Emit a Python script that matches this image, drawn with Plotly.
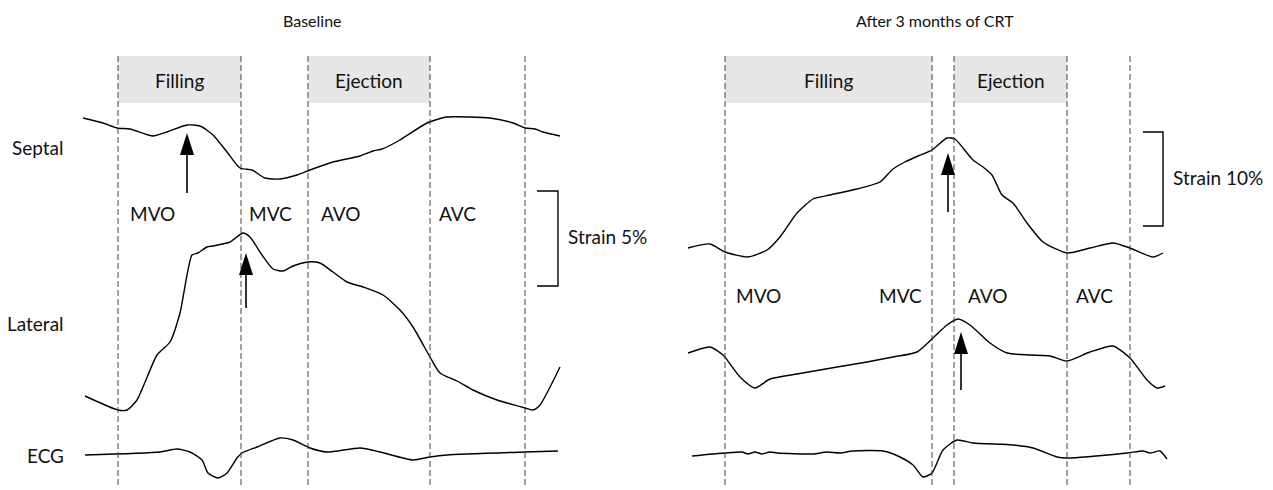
import plotly.graph_objects as go

# ---------------- data (time axis in px-like units, strain axis downward) ----------------
panel_titles = ["Baseline", "After 3 months of CRT"]
title_x = [312, 935]

row_labels = ["Septal", "Lateral", "ECG"]
row_label_y = [147, 323, 455]

# event lines (MVO, MVC, AVO, AVC, next MVO)
events_left = [118, 241, 308, 430, 525]
events_right = [725, 932, 954, 1067, 1130]
event_names = ["MVO", "MVC", "AVO", "AVC"]
event_label_x_left = [129, 248, 320, 438]
event_label_x_right = [735, 878, 967, 1075]
event_label_y = [213, 295]

phase_names = ["Filling", "Ejection"]

# Baseline septal
bs_x = [83, 103, 117, 130, 153, 167, 187, 200, 213, 227, 240, 252, 265, 280, 297, 310, 333, 360, 373, 382, 400, 427, 447, 470, 490, 513, 525, 535, 543, 560]
bs_y = [118, 123, 128, 129, 136, 132, 125, 126, 135, 152, 168, 170, 178, 179, 175, 170, 162, 156, 151, 149, 140, 123, 117, 117, 118, 123, 128, 129, 132, 136]
# Baseline lateral
bl_x = [85, 118, 127, 137, 157, 170, 180, 192, 198, 207, 213, 230, 243, 250, 262, 273, 283, 293, 308, 320, 333, 347, 363, 383, 400, 413, 430, 440, 457, 473, 497, 525, 533, 540, 560]
bl_y = [396, 410, 410, 400, 355, 342, 313, 255, 253, 247, 246, 242, 233, 237, 255, 269, 271, 266, 262, 263, 272, 282, 287, 295, 310, 327, 357, 373, 381, 390, 400, 408, 410, 405, 367]
# Baseline ECG
be_x = [85, 160, 177, 190, 202, 208, 218, 227, 237, 242, 257, 280, 293, 310, 327, 360, 380, 413, 430, 447, 525, 558]
be_y = [455, 452, 449, 452, 460, 473, 478, 473, 458, 453, 447, 438, 440, 448, 452, 448, 452, 460, 457, 455, 452, 451]

# CRT septal
cs_x = [688, 710, 725, 748, 767, 780, 797, 813, 830, 857, 880, 893, 905, 918, 932, 947, 955, 963, 973, 983, 992, 1002, 1013, 1027, 1043, 1067, 1090, 1113, 1130, 1153, 1163]
cs_y = [248, 244, 252, 257, 250, 237, 213, 199, 195, 189, 182, 169, 162, 156, 150, 138, 139, 148, 160, 167, 175, 195, 203, 223, 242, 253, 248, 243, 248, 257, 253]
# CRT lateral
cl_x = [688, 710, 723, 740, 755, 770, 797, 820, 837, 867, 893, 917, 933, 947, 958, 970, 990, 1007, 1030, 1050, 1067, 1090, 1113, 1130, 1147, 1157, 1165]
cl_y = [353, 347, 355, 377, 388, 379, 374, 370, 367, 362, 357, 352, 338, 325, 319, 325, 343, 353, 355, 356, 361, 352, 346, 358, 380, 388, 386]
# CRT ECG
ce_x = [692, 725, 742, 748, 755, 762, 770, 777, 813, 827, 840, 853, 883, 900, 913, 923, 932, 943, 957, 973, 1013, 1033, 1057, 1067, 1127, 1143, 1150, 1160, 1167]
ce_y = [456, 453, 452, 454, 452, 454, 452, 453, 454, 452, 453, 451, 451, 457, 465, 477, 473, 450, 440, 443, 445, 448, 457, 458, 453, 451, 453, 451, 459]

# arrows: x, tip y, tail y
arrow_x = [187, 246, 948, 961]
arrow_tip = [133, 253, 153, 332]
arrow_tail = [193, 308, 212, 390]

# strain scale brackets: x_left, x_right, y_top, y_bottom, label
bracket_x0 = [537, 1143]
bracket_x1 = [558, 1163]
bracket_top = [191, 132]
bracket_bot = [286, 226]
bracket_labels = ["Strain 5%", "Strain 10%"]

FONT = "Lato"
TXT = "#111"
W, H = 1273, 490
OFF = 8  # browser body margin
fig = go.Figure()

shapes = []
annotations = []

# gray phase boxes
for ev in (events_left, events_right):
    for (a, b) in [(ev[0], ev[1]), (ev[2], ev[3])]:
        shapes.append(dict(type="rect", x0=a, x1=b, y0=56, y1=103, xref="x", yref="y",
                           fillcolor="#e6e6e6", line=dict(width=0), layer="below"))
    annotations.append(dict(x=(ev[0] + ev[1]) / 2, y=80, text=phase_names[0], showarrow=False,
                            font=dict(family=FONT, size=19, color=TXT)))
    annotations.append(dict(x=(ev[2] + ev[3]) / 2, y=80, text=phase_names[1], showarrow=False,
                            font=dict(family=FONT, size=19, color=TXT)))
    for e in ev:
        shapes.append(dict(type="line", x0=e, x1=e, y0=56, y1=488, xref="x", yref="y",
                           line=dict(color="#444", width=1, dash="6px,3px")))

# curves
for xs, ys in [(bs_x, bs_y), (bl_x, bl_y), (be_x, be_y), (cs_x, cs_y), (cl_x, cl_y), (ce_x, ce_y)]:
    fig.add_trace(go.Scatter(x=xs, y=ys, mode="lines",
                             line=dict(color="black", width=1.4, shape="spline", smoothing=0.6),
                             hoverinfo="skip", showlegend=False))

# arrows
for ax_, tip, tail in zip(arrow_x, arrow_tip, arrow_tail):
    shapes.append(dict(type="line", x0=ax_, x1=ax_, y0=tip + 18, y1=tail, xref="x", yref="y",
                       line=dict(color="black", width=1.6)))
    shapes.append(dict(type="path", path=f"M {ax_},{tip} L {ax_-7},{tip+22} L {ax_+7},{tip+22} Z",
                       xref="x", yref="y", fillcolor="black", line=dict(width=0)))

# brackets
for x0, x1, t, b, lab in zip(bracket_x0, bracket_x1, bracket_top, bracket_bot, bracket_labels):
    shapes.append(dict(type="path", path=f"M {x0},{t} L {x1},{t} L {x1},{b} L {x0},{b}",
                       xref="x", yref="y", line=dict(color="black", width=1.4)))
    annotations.append(dict(x=x1 + 8, y=(t + b) / 2 - 2, text=lab, showarrow=False, xanchor="left",
                            font=dict(family=FONT, size=19, color=TXT)))

# event labels
for xs, yy in [(event_label_x_left, event_label_y[0]), (event_label_x_right, event_label_y[1])]:
    for x, name in zip(xs, event_names):
        annotations.append(dict(x=x - 1, y=yy, text=name, showarrow=False, xanchor="left",
                                font=dict(family=FONT, size=19, color=TXT)))

# row labels
for lab, yy in zip(row_labels, row_label_y):
    annotations.append(dict(x=66, y=yy, text=lab, showarrow=False, xanchor="right",
                            font=dict(family=FONT, size=19, color=TXT)))

# titles
for t, x in zip(panel_titles, title_x):
    annotations.append(dict(x=x, y=20, text=t, showarrow=False,
                            font=dict(family=FONT, size=16, color=TXT)))

for a in annotations:
    a.setdefault("xref", "x")
    a.setdefault("yref", "y")

fig.update_layout(
    width=W - OFF, height=H - OFF, margin=dict(l=0, r=0, t=0, b=0, pad=0),
    paper_bgcolor="white", plot_bgcolor="white",
    xaxis=dict(range=[OFF, W], visible=False, fixedrange=True),
    yaxis=dict(range=[H, OFF], visible=False, fixedrange=True),
    shapes=shapes, annotations=annotations,
)
fig.write_html("out.html")
